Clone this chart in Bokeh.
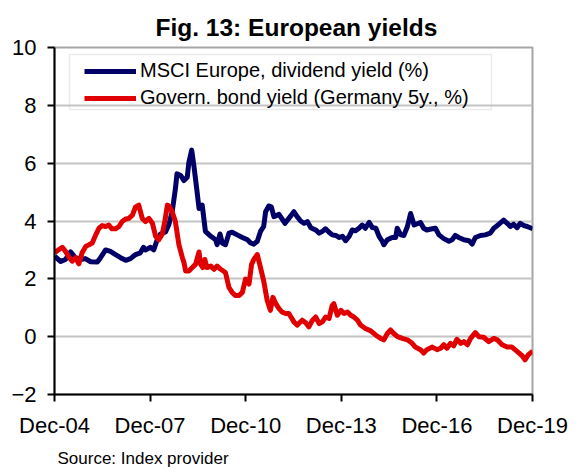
from datetime import datetime, timedelta
from bokeh.plotting import figure
from bokeh.models import Range1d, FixedTicker, DatetimeTickFormatter, Title, BoxAnnotation
from bokeh.embed import file_html
from bokeh.resources import INLINE

title_text = "Fig. 13: European yields"
source_text = "Source:  Index provider"
series_names = ["MSCI Europe, dividend yield (%)", "Govern. bond yield (Germany 5y., %)"]
x_tick_labels = ["Dec-04", "Dec-07", "Dec-10", "Dec-13", "Dec-16", "Dec-19"]
y_ticks = [-2, 0, 2, 4, 6, 8, 10]

# MSCI Europe dividend yield (decimal years, %)
div_t = [2004.92, 2005.11, 2005.26, 2005.42, 2005.57, 2005.73, 2005.88, 2006.05, 2006.26, 2006.36,
         2006.52, 2006.67, 2006.83, 2006.99, 2007.15, 2007.30, 2007.46, 2007.61, 2007.71, 2007.77,
         2007.93, 2008.03, 2008.14, 2008.24, 2008.40, 2008.50, 2008.61, 2008.71, 2008.76, 2008.88,
         2008.98, 2009.08, 2009.13, 2009.22, 2009.29, 2009.39, 2009.45, 2009.55, 2009.65, 2009.82,
         2009.97, 2010.02, 2010.11, 2010.18, 2010.28, 2010.39, 2010.49, 2010.65, 2010.81, 2010.97,
         2011.07, 2011.17, 2011.28, 2011.38, 2011.48, 2011.54, 2011.64, 2011.72, 2011.80, 2011.96,
         2012.15, 2012.27, 2012.43, 2012.53, 2012.64, 2012.75, 2012.85, 2012.96, 2013.11, 2013.22,
         2013.32, 2013.42, 2013.53, 2013.63, 2013.74, 2013.85, 2013.95, 2014.05, 2014.16, 2014.26,
         2014.36, 2014.47, 2014.57, 2014.67, 2014.79, 2014.89, 2015.00, 2015.10, 2015.20, 2015.25,
         2015.36, 2015.51, 2015.62, 2015.67, 2015.78, 2015.88, 2015.99, 2016.09, 2016.20, 2016.40,
         2016.50, 2016.60, 2016.77, 2016.87, 2016.98, 2017.13, 2017.29, 2017.39, 2017.49, 2017.60,
         2017.76, 2017.92, 2018.02, 2018.12, 2018.28, 2018.43, 2018.59, 2018.70, 2018.86, 2019.01,
         2019.12, 2019.22, 2019.32, 2019.43, 2019.53, 2019.65, 2019.75, 2019.92]
div_v = [2.78, 2.60, 2.67, 2.93, 2.73, 2.67, 2.70, 2.59, 2.58, 2.73,
         3.00, 2.95, 2.84, 2.73, 2.64, 2.70, 2.84, 2.90, 3.09, 3.00,
         3.09, 3.00, 3.35, 3.55, 3.62, 3.86, 4.32, 5.11, 5.63, 5.57,
         5.40, 5.51, 6.02, 6.45, 5.90, 5.00, 4.43, 4.55, 3.64, 3.47,
         3.35, 3.18, 3.55, 3.24, 3.18, 3.58, 3.61, 3.52, 3.43, 3.35,
         3.24, 3.20, 3.30, 3.64, 3.81, 4.32, 4.52, 4.49, 4.15, 4.23,
         3.92, 4.09, 4.32, 4.15, 4.00, 3.92, 3.98, 3.77, 3.69, 3.58,
         3.64, 3.73, 3.61, 3.52, 3.50, 3.43, 3.47, 3.32, 3.47, 3.69,
         3.66, 3.75, 3.86, 3.75, 3.95, 3.77, 3.75, 3.47, 3.30, 3.18,
         3.35, 3.43, 3.43, 3.75, 3.52, 3.50, 3.81, 4.26, 3.86, 3.95,
         3.75, 3.69, 3.73, 3.75, 3.52, 3.39, 3.30, 3.35, 3.50, 3.43,
         3.35, 3.32, 3.20, 3.43, 3.50, 3.52, 3.58, 3.75, 3.89, 4.03,
         3.92, 3.81, 3.89, 3.77, 3.92, 3.84, 3.81, 3.73]

# German 5y government bond yield (decimal years, %)
bund_t = [2004.92, 2005.01, 2005.16, 2005.26, 2005.37, 2005.47, 2005.58, 2005.68, 2005.78, 2005.90,
          2006.00, 2006.10, 2006.21, 2006.31, 2006.41, 2006.52, 2006.62, 2006.72, 2006.83, 2006.94,
          2007.04, 2007.15, 2007.25, 2007.36, 2007.46, 2007.56, 2007.67, 2007.77, 2007.88, 2007.99,
          2008.09, 2008.19, 2008.30, 2008.38, 2008.46, 2008.52, 2008.61, 2008.71, 2008.82, 2008.93,
          2008.98, 2009.03, 2009.13, 2009.24, 2009.34, 2009.45, 2009.50, 2009.57, 2009.63, 2009.70,
          2009.82, 2009.92, 2010.02, 2010.13, 2010.28, 2010.39, 2010.49, 2010.59, 2010.70, 2010.81,
          2010.91, 2011.02, 2011.10, 2011.17, 2011.28, 2011.38, 2011.48, 2011.59, 2011.69, 2011.77,
          2011.86, 2011.96, 2012.06, 2012.17, 2012.27, 2012.43, 2012.53, 2012.69, 2012.80, 2012.90,
          2013.01, 2013.11, 2013.22, 2013.32, 2013.42, 2013.53, 2013.63, 2013.68, 2013.79, 2013.90,
          2014.00, 2014.11, 2014.21, 2014.31, 2014.42, 2014.52, 2014.67, 2014.84, 2015.00, 2015.15,
          2015.25, 2015.36, 2015.46, 2015.56, 2015.68, 2015.83, 2015.99, 2016.14, 2016.24, 2016.40,
          2016.50, 2016.60, 2016.77, 2016.92, 2017.03, 2017.13, 2017.23, 2017.34, 2017.44, 2017.54,
          2017.66, 2017.76, 2017.87, 2017.97, 2018.12, 2018.23, 2018.38, 2018.54, 2018.70, 2018.81,
          2018.96, 2019.12, 2019.27, 2019.43, 2019.59, 2019.68, 2019.78, 2019.92]
bund_v = [2.90, 2.98, 3.09, 2.95, 2.75, 2.61, 2.73, 2.52, 2.90, 3.13,
          3.18, 3.24, 3.52, 3.75, 3.84, 3.81, 3.86, 3.73, 3.73, 3.81,
          3.98, 4.07, 4.09, 4.20, 4.49, 4.55, 4.09, 3.98, 4.09, 3.92,
          3.47, 3.35, 3.55, 4.00, 4.55, 4.50, 4.32, 3.98, 3.18, 2.73,
          2.56, 2.27, 2.27, 2.39, 2.50, 2.93, 2.50, 2.39, 2.67, 2.39,
          2.44, 2.33, 2.44, 2.33, 2.22, 1.70, 1.53, 1.42, 1.42, 1.53,
          1.99, 1.82, 2.50, 2.67, 2.84, 2.39, 1.93, 1.25, 0.91, 1.36,
          1.14, 0.97, 0.85, 0.80, 0.80, 0.51, 0.40, 0.57, 0.48, 0.34,
          0.57, 0.68, 0.45, 0.51, 0.68, 0.63, 1.08, 1.14, 0.74, 0.91,
          0.80, 0.85, 0.74, 0.68, 0.57, 0.40, 0.28, 0.20, 0.05, -0.06,
          -0.11, 0.11, 0.23, 0.11, 0.00, -0.06, -0.11, -0.23, -0.36, -0.45,
          -0.57, -0.45, -0.36, -0.45, -0.40, -0.28, -0.40, -0.23, -0.32, -0.09,
          -0.23, -0.17, -0.28, -0.06, 0.14, 0.00, -0.02, -0.17, -0.06, -0.11,
          -0.28, -0.36, -0.36, -0.51, -0.66, -0.80, -0.63, -0.50]


def to_dt(y):
    yr = int(y)
    return datetime(yr, 1, 1) + timedelta(days=(y - yr) * 365.25)


FONT = "Liberation Sans"
BLUE = "#000066"
RED = "#E00000"

tick_dates = [datetime.strptime(s, "%b-%y") for s in x_tick_labels]

p = figure(width=580, height=473, output_backend="svg", toolbar_location=None,
           x_axis_type="datetime",
           x_range=Range1d(tick_dates[0], tick_dates[-1]),
           y_range=Range1d(y_ticks[0], y_ticks[-1]),
           min_border_left=54, min_border_right=48, min_border_top=47, min_border_bottom=76)

p.line([to_dt(t) for t in div_t], div_v, line_color=BLUE, line_width=5,
       legend_label=series_names[0], line_join="round")
p.line([to_dt(t) for t in bund_t], bund_v, line_color=RED, line_width=5,
       legend_label=series_names[1], line_join="round")

# axes
p.xaxis.ticker = FixedTicker(ticks=[d.timestamp() * 1000 for d in tick_dates])
fmt = "%b-%y"
p.xaxis.formatter = DatetimeTickFormatter(years=fmt, months=fmt, days=fmt, hours=fmt,
                                          minutes=fmt, seconds=fmt, milliseconds=fmt,
                                          microseconds=fmt, minsec=fmt, hourmin=fmt)
p.yaxis.ticker = FixedTicker(ticks=y_ticks)
for ax in (p.xaxis[0], p.yaxis[0]):
    ax.axis_line_color = "black"
    ax.axis_line_width = 2
    ax.major_tick_line_color = "black"
    ax.major_tick_line_width = 2
    ax.major_tick_out = 7
    ax.major_tick_in = 0
    ax.minor_tick_out = 0
    ax.minor_tick_in = 0
    ax.major_label_text_font = FONT
    ax.major_label_text_font_size = "22px"
    ax.major_label_text_color = "black"
    ax.major_label_standoff = 11

p.xgrid.visible = False
p.ygrid.grid_line_color = "#c4c4c4"
p.ygrid.grid_line_width = 2
p.outline_line_color = "#a6a6a6"
p.outline_line_width = 2
p.background_fill_color = "white"
p.border_fill_color = "white"

# legend frame (drawn separately so the glyphs can sit further in)
p.add_layout(BoxAnnotation(left=15, right=437, bottom=285, top=340,
                           left_units="screen", right_units="screen",
                           bottom_units="screen", top_units="screen",
                           fill_alpha=0, line_color="#bcbcbc", line_width=1.5))

lg = p.legend[0]
lg.location = (27, 282)
lg.orientation = "vertical"
lg.border_line_alpha = 0
lg.background_fill_alpha = 0
lg.padding = 3
lg.spacing = 4
lg.glyph_width = 52
lg.glyph_height = 20
lg.label_height = 20
lg.label_standoff = 4
lg.label_text_font = FONT
lg.label_text_font_size = "20px"
lg.label_text_color = "black"

# title and source
p.title.text = title_text
p.title.align = "left"
p.title.offset = 101
p.title.text_font = FONT
p.title.text_font_style = "bold"
p.title.text_font_size = "24.5px"
p.title.text_color = "black"
p.title.standoff = 14

p.add_layout(Title(text=source_text, align="left", offset=3, text_font=FONT,
                   text_font_style="normal", text_font_size="17px", text_color="black",
                   standoff=12), "below")

open("out.html", "w").write(file_html(p, INLINE))
